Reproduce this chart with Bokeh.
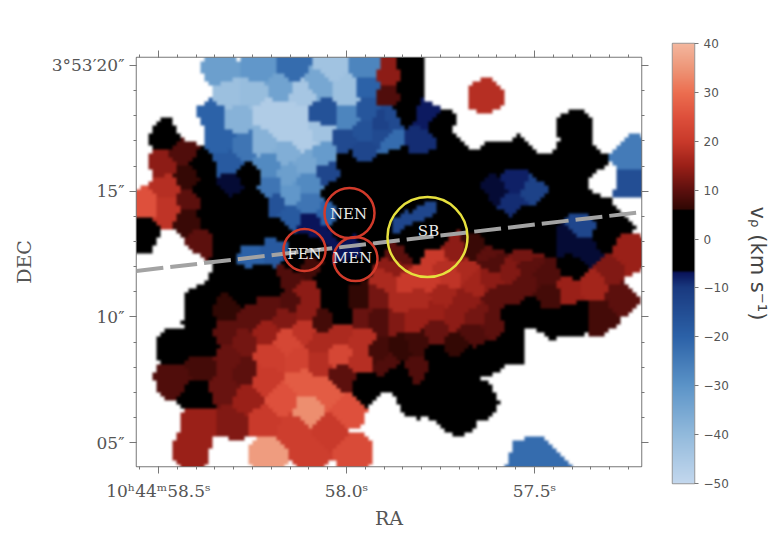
import numpy as np
from bokeh.embed import file_html
from bokeh.layouts import row, column
from bokeh.models import FixedTicker, LinearAxis, Range1d
from bokeh.core.properties import value
from bokeh.plotting import figure
from bokeh.resources import INLINE

# Voronoi bins of the velocity map: (map x, map y, v_p in km/s [, bin reach])
BLUE_BINS = [
    (220,70,-33),(258,70,-31),(292,68,-22),(330,68,-43),(368,67,-27),
    (227,93,-42),(253,92,-41),(280,87,-34),(317,83,-35),(347,90,-42),(367,87,-20),
    (210,115,-20),(237,120,-38),(267,113,-46),(302,93,-44),(293,113,-46),(323,115,-16),
    (347,118,-27),(367,110,-17),(383,120,-12),(223,140,-20),(242,145,-24),(263,142,-38),
    (280,127,-46),(303,137,-46),(320,132,-43),(343,140,-14),(363,130,-16),(383,137,-14),
    (363,150,-13),(325,153,-32),(287,153,-37),(227,163,-18),(268,165,-28),(305,165,-35),
    (288,173,-33),(327,173,-13),(230,185,-6.8),(270,187,-24),(308,183,-28),(292,193,-31),
    (273,203,-16),(308,203,-24),(290,215,-18),(310,223,-7),(326,215,-20),(330,237,-7),
    (273,247,-18),(250,253,-20),(347,250,-7),
    (388,118,-14),(387,140,-22),(427,115,-7.5),(422,140,-9),
    (515,180,-8),(495,190,-6.8),(532,190,-12),(512,203,-9),
    (628,153,-25),(628,185,-15),(582,227,-13),(568,240,-6.8),(585,250,-6.8),
    (400,222,-13),(424,211,-13),(535,455,-22,40),
]
RED_BINS = [
    (388,72,14),(388,95,9),(485,97,18,19),
    (180,153,9),(163,163,14),(187,177,6.6),(167,187,18),(145,205,25),(167,210,19),
    (188,198,10),(187,222,7),(200,240,10),(625,250,15),(632,263,15),
    (290,280,9),(305,292,14),(290,302,9),(270,307,10),(248,320,10),(225,310,6.3),
    (283,317,13),(305,310,14),(322,322,8),(340,333,17),(360,317,11),(360,340,18),
    (227,332,10),(243,340,12),(265,333,15),(303,332,19),(287,343,23),(320,343,17),
    (270,357,21),(297,360,22),(317,363,18),(340,355,23),(360,360,18),(227,360,11),
    (245,373,10),(203,367,8),(173,380,9),(263,380,20),(303,382,27),(342,378,10),
    (223,388,11),(247,400,15),(283,400,25),(327,393,27),(308,410,34),(347,410,25),
    (230,423,13),(200,423,15),(263,420,20),(293,430,21),(328,432,20),(192,450,15),
    (268,455,36),(310,453,21),(353,453,24),(360,300,6.3),(307,267,8),
    (378,300,12),(378,320,9),(380,353,8),(388,283,17),(395,267,14),
    (405,283,20),(428,280,20),(452,277,19),(473,283,16),(490,280,14),(508,272,13),
    (492,263,9),(528,265,10),(525,283,10),(545,277,9),(498,297,10),(515,293,10),
    (548,295,8),(570,290,15),(590,285,16),(612,270,13),(622,297,10),(598,317,8),
    (398,303,17),(418,300,17),(442,297,16),(465,303,14),(395,320,13),(415,320,15),
    (435,313,15),(455,317,14),(475,317,12),(492,323,10),(472,333,9),(435,332,11),
    (398,350,6.5),(417,343,7.5),(455,345,6.5),(417,367,9),(388,363,9),
    (475,245,7),(488,253,10),(525,257,12),(452,250,14),(435,258,20),(398,257,10),
    (442,267,18),(465,273,17),
]
BLACK_BINS = [
    (165,137,0),(143,232,0),(203,190,0),(210,220,0),(237,220,0),(220,230,0),(250,177,0),
    (260,203,0),(243,200,0),(277,230,0),(253,237,0),(227,247,0),(203,167,0),(217,197,0),
    (347,163,0),(360,170,0),(380,167,0),(337,190,0),(357,207,0),(345,216,0),(377,193,0),
    (337,232,0),(383,227,0),(372,245,0),(320,247,0),(303,247,0),(408,70,0,20),(407,90,0),(405,110,0),
    (395,160,0),(405,187,0),(428,163,0),(430,190,0),(450,150,0),(472,167,0),(452,183,0),(478,200,0),
    (452,207,0),(478,223,0),(498,160,0),(518,155,0),(545,170,0),(572,152,0),(575,130,0),
    (590,165,0),(562,183,0),(578,197,0),(548,207,0),(525,217,0),(498,223,0),(598,210,0),
    (615,220,0),(545,237,0),(528,243,0),(512,237,0),(492,240,0),(605,237,0),
    (393,210,0),(417,199,0),(407,234,0),(431,223,0),
    (442,217,0),(435,237,0),(415,247,0),(438,125,0),
    (173,348,0),(203,347,0),(203,323,0),(205,300,0),(230,277,0),(257,280,0),(243,293,0),
    (270,287,0),(197,395,0),(365,388,0),(333,300,0),(327,280,0),(343,317,0),(352,268,0),
    (297,263,0),(397,375,0),(412,400,0),(435,357,0),(435,377,0),(435,400,0),(457,370,0),
    (457,397,0),(457,417,0),(478,400,0),(488,357,0),(512,345,0),(468,360,0),(512,317,0),
    (528,310,0),(548,323,0),(575,317,0),(572,268,0),
]
EMPTY_BINS = [
    (227,455),(228,472),(560,430),(478,450),(535,408),(602,180),(628,207),(640,282),
    (190,125),(180,70),(195,92),(135,150),(135,170),(140,120),(170,245),(185,262),
    (190,272),(165,300),(150,320),(140,350),(135,385),(150,420),(145,450),
    (440,75),(438,92),(470,128),(500,125),(540,135),(610,135),(625,115),
    (535,345),(560,355),(510,385),(525,420),(490,440),(440,450),(400,430),(385,412),
    (395,465),(620,345),(645,320),
]

TICKS_COLORBAR = [-50, -40, -30, -20, -10, 0, 10, 20, 30, 40]
COLOR_V = [-50, -40, -30, -20, -10, -7, -6.5, 6, 6.2, 10, 15, 20, 25, 30, 35, 40]
COLOR_RGB = [
    (196, 216, 238), (146, 186, 220), (92, 148, 200), (44, 98, 168), (26, 58, 128), (10, 20, 90),
    (0, 0, 0), (0, 0, 0), (48, 8, 4), (92, 16, 14), (154, 32, 24), (201, 58, 43),
    (222, 80, 60), (236, 110, 80), (238, 150, 120), (244, 183, 158),
]

ANNOT_X = [349, 304, 355, 427]
ANNOT_Y = [213, 250, 259, 237]
ANNOT_R = [25, 21, 22, 40]
ANNOT_NAMES = ["NEN", "FEN", "MEN", "SB"]
ANNOT_COLORS = ["#d13a2a", "#d13a2a", "#d13a2a", "#e6e03e"]
SLIT_X = [136, 641]
SLIT_Y = [271, 212]

X_LEFT, X_RIGHT, Y_TOP, Y_BOTTOM = 136, 641, 57, 467


def to_ra(px):
    return (np.asarray(px, float) - 158) / 376


def to_dec(py):
    return 20 - (np.asarray(py, float) - 65) / 25.2


def vel_rgb(v):
    c = np.array(COLOR_RGB, float)
    return np.stack([np.interp(v, COLOR_V, c[:, i]) for i in range(3)], axis=-1)


def smooth(a, k=3):
    kern = np.ones(k) / k
    pad = k // 2
    for axis in (0, 1):
        for _ in range(2):
            w = [(0, 0)] * a.ndim
            w[axis] = (pad, pad)
            b = np.pad(a, w, mode="edge")
            a = np.apply_along_axis(lambda m: np.convolve(m, kern, mode="valid"), axis, b)
    return a


bins = [(*b, 21) if len(b) == 3 else b for b in BLUE_BINS + RED_BINS + BLACK_BINS]
bins += [(x, y, np.nan, 60) for x, y in EMPTY_BINS]
sx, sy, sv, sr = (np.array(c, float) for c in zip(*bins))

qx = np.arange(X_LEFT, X_RIGHT + 4, 4) + 2.0
qy = np.arange(Y_TOP, Y_BOTTOM + 4, 4) + 2.0
gx, gy = np.meshgrid(qx, qy)
dist = np.hypot(gx[..., None] - sx, gy[..., None] - sy)
near = dist.argmin(axis=-1)
val = sv[near]
val[dist.min(axis=-1) > sr[near]] = np.nan
rgb = vel_rgb(val)
rgb[np.isnan(val)] = 255
rgb = np.repeat(np.repeat(rgb, 4, axis=0), 4, axis=1)
rgb = smooth(rgb)[: Y_BOTTOM - Y_TOP, : X_RIGHT - X_LEFT]
h, w = rgb.shape[:2]
img = np.zeros((h, w), dtype=np.uint32)
view = img.view(dtype=np.uint8).reshape((h, w, 4))
view[..., :3] = np.clip(rgb, 0, 255).astype(np.uint8)
view[..., 3] = 255
img = img[::-1]

GREY = "#777777"
TEXT = "#555555"
SERIF = "DejaVu Serif"

x0, x1 = float(to_ra(X_LEFT)), float(to_ra(X_RIGHT))
y0, y1 = float(to_dec(Y_BOTTOM)), float(to_dec(Y_TOP))
p = figure(width=650, height=531, output_backend="svg", toolbar_location=None,
           x_range=Range1d(x0, x1), y_range=Range1d(y0, y1),
           x_axis_location=None, y_axis_location=None,
           min_border_left=136, min_border_right=9, min_border_top=57, min_border_bottom=64,
           outline_line_color=GREY, outline_line_width=1.5, background_fill_color="white")
p.grid.visible = False
p.image_rgba(image=[img], x=x0, y=y0, dw=x1 - x0, dh=y1 - y0)

p.line(to_ra(SLIT_X), to_dec(SLIT_Y), line_color="#a3a3a3", line_width=4, line_dash="27 7")
p.scatter(to_ra(ANNOT_X), to_dec(ANNOT_Y), size=[2 * r for r in ANNOT_R], marker="circle",
          fill_color=None, line_color=ANNOT_COLORS, line_width=2.5)
p.text(to_ra([348, 304, 352, 428]), to_dec([214, 254, 258, 231]), text=ANNOT_NAMES,
       text_color="#e8e8e8", text_font=value(SERIF), text_font_size="15px",
       text_align="center", text_baseline="middle")

x_major = [0.0, 0.5, 1.0]
x_minor = [round(v, 3) for v in np.arange(-0.05, 1.3, 0.05)]
y_major = [5, 10, 15, 20]
y_minor = list(range(5, 21))
x_labels = {0: "10ʰ44ᵐ58.5ˢ", 0.5: "58.0ˢ", 1: "57.5ˢ"}
y_labels = {20: "3°53′20″", 15: "15″", 10: "10″", 5: "05″"}


def style(ax):
    ax.axis_line_color = None
    ax.major_tick_line_color = GREY
    ax.minor_tick_line_color = GREY
    ax.major_tick_out = 7
    ax.minor_tick_out = 3
    ax.major_tick_in = 0
    ax.minor_tick_in = 0
    ax.major_label_text_color = TEXT
    ax.major_label_text_font = SERIF
    ax.major_label_text_font_size = "17px"
    ax.axis_label_text_color = TEXT
    ax.axis_label_text_font = SERIF
    ax.axis_label_text_font_size = "19px"
    ax.axis_label_text_font_style = "normal"


xt = FixedTicker(ticks=x_major, minor_ticks=x_minor)
yt = FixedTicker(ticks=y_major, minor_ticks=y_minor)
bottom = LinearAxis(ticker=xt, major_label_overrides=x_labels, axis_label="RA",
                    axis_label_standoff=3, major_label_standoff=7)
left = LinearAxis(ticker=yt, major_label_overrides=y_labels, axis_label="DEC", axis_label_standoff=14)
top = LinearAxis(ticker=xt)
right = LinearAxis(ticker=yt)
for ax in (bottom, left, top, right):
    style(ax)
for ax in (top, right):
    ax.major_label_text_color = None
    ax.major_label_text_font_size = "1px"
p.add_layout(bottom, "below")
p.add_layout(left, "left")
p.add_layout(top, "above")
p.add_layout(right, "right")

# Colour bar
levels = np.linspace(-50, 40, 441)
bar = vel_rgb(levels)[:, None, :]
cimg = np.zeros((bar.shape[0], 1), dtype=np.uint32)
cview = cimg.view(dtype=np.uint8).reshape((bar.shape[0], 1, 4))
cview[..., :3] = bar.astype(np.uint8)
cview[..., 3] = 255
cb = figure(width=122, height=520, output_backend="svg", toolbar_location=None,
            x_range=Range1d(0, 1), y_range=Range1d(-50, 40),
            x_axis_location=None, y_axis_location=None,
            min_border_left=22, min_border_right=1, min_border_top=43, min_border_bottom=37,
            outline_line_color="#999999", outline_line_width=1.5)
cb.grid.visible = False
cb.image_rgba(image=[cimg], x=0, y=-50, dw=1, dh=90)
cax = LinearAxis(ticker=FixedTicker(ticks=TICKS_COLORBAR),
                 major_label_overrides={t: str(t).replace("-", "−") for t in TICKS_COLORBAR},
                 axis_label="vᵨ (km s⁻¹)", axis_label_standoff=14)
cax.axis_line_color = None
cax.major_tick_line_color = GREY
cax.minor_tick_line_color = None
cax.major_tick_out = 4
cax.major_tick_in = 0
cax.major_label_text_color = TEXT
cax.major_label_text_font = "DejaVu Sans"
cax.major_label_text_font_size = "12px"
cax.axis_label_text_color = "#444444"
cax.axis_label_text_font = "DejaVu Sans"
cax.axis_label_text_font_size = "21px"
cax.axis_label_text_font_style = "normal"
cb.add_layout(cax, "right")

page = row(column(p), column(cb), spacing=0)
open("out.html", "w").write(file_html(page, INLINE))
